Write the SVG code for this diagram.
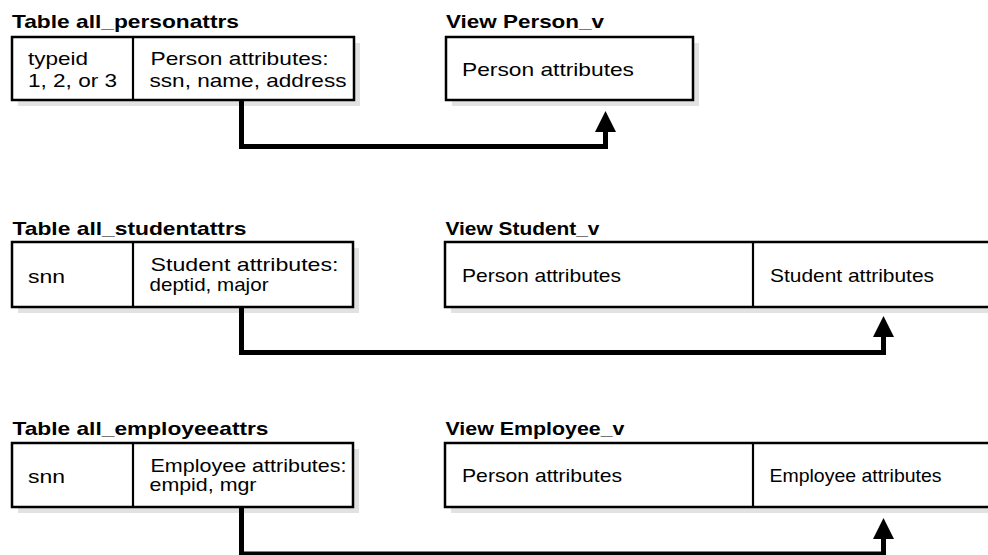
<svg xmlns="http://www.w3.org/2000/svg" width="988" height="555" viewBox="0 0 988 555">
<style>
  .title { font-family: "Liberation Sans", Arial, Helvetica, sans-serif; font-weight: bold; font-size: 18.5px; fill: #000; }
  .txt { font-family: "Liberation Sans", Arial, Helvetica, sans-serif; font-size: 19px; fill: #000; }
  .box { fill: #fff; stroke: #000; stroke-width: 2.5; }
  .shadow { fill: #e2e2e2; stroke: none; }
  .div { stroke: #000; stroke-width: 2.2; }
  .conn { fill: none; stroke: #000; stroke-width: 5; stroke-linejoin: miter; stroke-linecap: butt; }
</style>
<defs>
  <marker id="head" markerUnits="userSpaceOnUse" viewBox="0 0 21 21" markerWidth="21" markerHeight="21" refX="1" refY="10.5" orient="auto">
    <path d="M0,0 L21,10.5 L0,21 z" fill="#000"/>
  </marker>
</defs>
<rect width="988" height="555" fill="#fff"/>

<g id="table_all_personattrs">
  <text class="title" x="12" y="28" textLength="227" lengthAdjust="spacingAndGlyphs">Table all_personattrs</text>
  <rect class="shadow" x="18" y="43" width="342" height="63"/>
  <rect class="box" x="12" y="37" width="342" height="63"/>
  <line class="div" x1="133" y1="37" x2="133" y2="100"/>
  <text class="txt" x="28" y="65" textLength="60" lengthAdjust="spacingAndGlyphs">typeid</text>
  <text class="txt" x="28" y="87" textLength="89" lengthAdjust="spacingAndGlyphs">1, 2, or 3</text>
  <text class="txt" x="150.5" y="65" textLength="178" lengthAdjust="spacingAndGlyphs">Person attributes:</text>
  <text class="txt" x="149.5" y="87" textLength="197" lengthAdjust="spacingAndGlyphs">ssn, name, address</text>
</g>

<g id="view_person_v">
  <text class="title" x="446" y="28" textLength="158" lengthAdjust="spacingAndGlyphs">View Person_v</text>
  <rect class="shadow" x="452" y="43" width="247" height="63"/>
  <rect class="box" x="446" y="37" width="247" height="63"/>
  <text class="txt" x="462" y="76" textLength="172" lengthAdjust="spacingAndGlyphs">Person attributes</text>
</g>

<g id="table_all_studentattrs">
  <text class="title" x="12.5" y="235" textLength="234" lengthAdjust="spacingAndGlyphs">Table all_studentattrs</text>
  <rect class="shadow" x="18" y="248" width="341" height="65"/>
  <rect class="box" x="12" y="242" width="341" height="65"/>
  <line class="div" x1="133" y1="242" x2="133" y2="307"/>
  <text class="txt" x="28" y="283" textLength="37" lengthAdjust="spacingAndGlyphs">snn</text>
  <text class="txt" x="150.5" y="271" textLength="188" lengthAdjust="spacingAndGlyphs">Student attributes:</text>
  <text class="txt" x="149.5" y="291" textLength="119" lengthAdjust="spacingAndGlyphs">deptid, major</text>
</g>

<g id="view_student_v">
  <text class="title" x="445.5" y="235" textLength="154" lengthAdjust="spacingAndGlyphs">View Student_v</text>
  <rect class="shadow" x="451" y="248" width="548" height="65"/>
  <rect class="box" x="445" y="242" width="548" height="65"/>
  <line class="div" x1="753" y1="242" x2="753" y2="307"/>
  <text class="txt" x="462" y="282" textLength="159" lengthAdjust="spacingAndGlyphs">Person attributes</text>
  <text class="txt" x="770" y="282" textLength="164" lengthAdjust="spacingAndGlyphs">Student attributes</text>
</g>

<g id="table_all_employeeattrs">
  <text class="title" x="12.5" y="435" textLength="256" lengthAdjust="spacingAndGlyphs">Table all_employeeattrs</text>
  <rect class="shadow" x="18" y="449" width="341" height="64"/>
  <rect class="box" x="12" y="443" width="341" height="64"/>
  <line class="div" x1="133" y1="443" x2="133" y2="507"/>
  <text class="txt" x="28" y="483" textLength="37" lengthAdjust="spacingAndGlyphs">snn</text>
  <text class="txt" x="150.5" y="472" textLength="196" lengthAdjust="spacingAndGlyphs">Employee attributes:</text>
  <text class="txt" x="149.5" y="491" textLength="107" lengthAdjust="spacingAndGlyphs">empid, mgr</text>
</g>

<g id="view_employee_v">
  <text class="title" x="445.5" y="435" textLength="179" lengthAdjust="spacingAndGlyphs">View Employee_v</text>
  <rect class="shadow" x="451" y="449" width="548" height="64"/>
  <rect class="box" x="445" y="443" width="548" height="64"/>
  <line class="div" x1="753" y1="443" x2="753" y2="507"/>
  <text class="txt" x="462" y="482" textLength="160" lengthAdjust="spacingAndGlyphs">Person attributes</text>
  <text class="txt" x="769.5" y="482" textLength="172" lengthAdjust="spacingAndGlyphs">Employee attributes</text>
</g>

<g id="connectors">
  <path class="conn" d="M241.5,101 V146.5 H605.5 V131" marker-end="url(#head)"/>
  <path class="conn" d="M241.5,308 V352.5 H883.5 V336" marker-end="url(#head)"/>
  <path class="conn" d="M241.5,508 V554 H883.5 V538" marker-end="url(#head)"/>
</g>
</svg>
